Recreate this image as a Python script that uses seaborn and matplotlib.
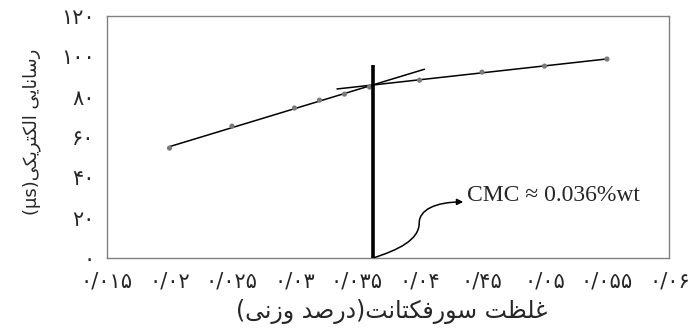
import numpy as np
import matplotlib
matplotlib.use("Agg")
import matplotlib.pyplot as plt
from matplotlib.patches import FancyArrowPatch
from matplotlib.path import Path
import seaborn as sns

# surfactant concentration (wt%) and conductivity
conc = [0.020, 0.025, 0.030, 0.032, 0.034, 0.036, 0.040, 0.045, 0.050, 0.055]
cond = [54.5, 65.4, 74.4, 78.3, 81.3, 84.8, 88.2, 92.2, 95.2, 98.7]
n_low = 6  # points before the CMC

# extent of the two trend lines
low_range = [0.020, 0.0404]
high_range = [0.0334, 0.055]

cmc = 0.0363
cmc_top = 95.7

x_ticks = [0.015, 0.02, 0.025, 0.03, 0.035, 0.04, 0.045, 0.05, 0.055, 0.06]
x_tick_labels = ["۰/۰۱۵", "۰/۰۲", "۰/۰۲۵", "۰/۰۳", "۰/۰۳۵", "۰/۰۴", "۰/۴۵", "۰/۰۵", "۰/۰۵۵", "۰/۰۶"]
y_ticks = [0, 20, 40, 60, 80, 100, 120]
y_tick_labels = ["۰", "۲۰", "۴۰", "۶۰", "۸۰", "۱۰۰", "۱۲۰"]

x_title = "غلظت سورفکتانت(درصد وزنی)"
y_title = "رسانایی الکتریکی"
y_unit = "(μs)"
cmc_text = "CMC ≈ 0.036%wt"

# matplotlib has no arabic shaping, so pick presentation forms by hand
# (isolated, final, initial, medial)
FORMS = {
    "ا": ("\uFE8D", "\uFE8E", None, None),
    "د": ("\uFEA9", "\uFEAA", None, None),
    "ر": ("\uFEAD", "\uFEAE", None, None),
    "ز": ("\uFEAF", "\uFEB0", None, None),
    "و": ("\uFEED", "\uFEEE", None, None),
    "ت": ("\uFE95", "\uFE96", "\uFE97", "\uFE98"),
    "س": ("\uFEB1", "\uFEB2", "\uFEB3", "\uFEB4"),
    "ص": ("\uFEB9", "\uFEBA", "\uFEBB", "\uFEBC"),
    "ظ": ("\uFEC5", "\uFEC6", "\uFEC7", "\uFEC8"),
    "غ": ("\uFECD", "\uFECE", "\uFECF", "\uFED0"),
    "ف": ("\uFED1", "\uFED2", "\uFED3", "\uFED4"),
    "ل": ("\uFEDD", "\uFEDE", "\uFEDF", "\uFEE0"),
    "ن": ("\uFEE5", "\uFEE6", "\uFEE7", "\uFEE8"),
    "ک": ("\uFB8E", "\uFB8F", "\uFB90", "\uFB91"),
    "ی": ("\uFBFC", "\uFBFD", "\uFBFE", "\uFBFF"),
}


def shape(s):
    out = []
    for i, ch in enumerate(s):
        if ch not in FORMS:
            out.append(ch)
            continue
        prev = s[i - 1] if i > 0 else ""
        nxt = s[i + 1] if i + 1 < len(s) else ""
        joins_prev = prev in FORMS and FORMS[prev][2] is not None
        joins_next = nxt in FORMS and FORMS[ch][2] is not None
        iso, fin, ini, med = FORMS[ch]
        if joins_prev and joins_next:
            out.append(med)
        elif joins_prev:
            out.append(fin)
        elif joins_next:
            out.append(ini)
        else:
            out.append(iso)
    vis = "".join(out)[::-1]
    return vis.translate(str.maketrans("()", ")("))


sns.set_style("white")
plt.rcParams["font.family"] = ["DejaVu Sans"]

fig, ax = plt.subplots(figsize=(6.97, 3.29), dpi=100)
fig.subplots_adjust(left=0.1535, right=0.9605, top=0.951, bottom=0.216)

# trend lines
for sel, rng in [(slice(0, n_low), low_range), (slice(n_low, None), high_range)]:
    k, b = np.polyfit(conc[sel], cond[sel], 1)
    xs = np.array(rng)
    sns.lineplot(x=xs, y=k * xs + b, color="black", lw=1.1, ax=ax)

sns.scatterplot(x=conc, y=cond, color="#7a7a7a", s=14, edgecolor="none", zorder=3, ax=ax)

ax.vlines(cmc, 0, cmc_top, color="black", lw=2.6, zorder=4)

ax.set_xlim(0.015, 0.06)
ax.set_ylim(0, 120)
ax.set_xticks(x_ticks)
ax.set_xticklabels(x_tick_labels, fontsize=15)
ax.set_yticks(y_ticks)
ax.set_yticklabels(y_tick_labels, fontsize=15)
ax.tick_params(length=0)
ax.tick_params(axis="y", pad=9)
ax.tick_params(axis="x", pad=10)
for sp in ax.spines.values():
    sp.set_color("#808080")
    sp.set_linewidth(1.0)

ax.set_xlabel(shape(x_title), fontsize=17)
ax.set_ylabel(y_unit + shape(y_title), fontsize=13)
ax.xaxis.set_label_coords(0.507, -0.17)
ax.yaxis.set_label_coords(-0.118, 0.52)

# S-shaped arrow from the foot of the CMC line to the label
verts = [(cmc, 0),
         (cmc + 0.0020, 4.0), (cmc + 0.00368, 8.9), (cmc + 0.00368, 17.4),
         (cmc + 0.00368, 23.8), (cmc + 0.00496, 27.8), (cmc + 0.00720, 27.8)]
codes = [Path.MOVETO] + [Path.CURVE4] * 6
arrow = FancyArrowPatch(path=Path(verts, codes), arrowstyle="-|>", mutation_scale=9,
                        lw=1.1, color="black", zorder=4)
ax.add_patch(arrow)
ax.text(cmc + 0.0075, 31, cmc_text, fontsize=17, family="Liberation Serif",
        va="center", ha="left")

fig.savefig("out.png", dpi=100)
